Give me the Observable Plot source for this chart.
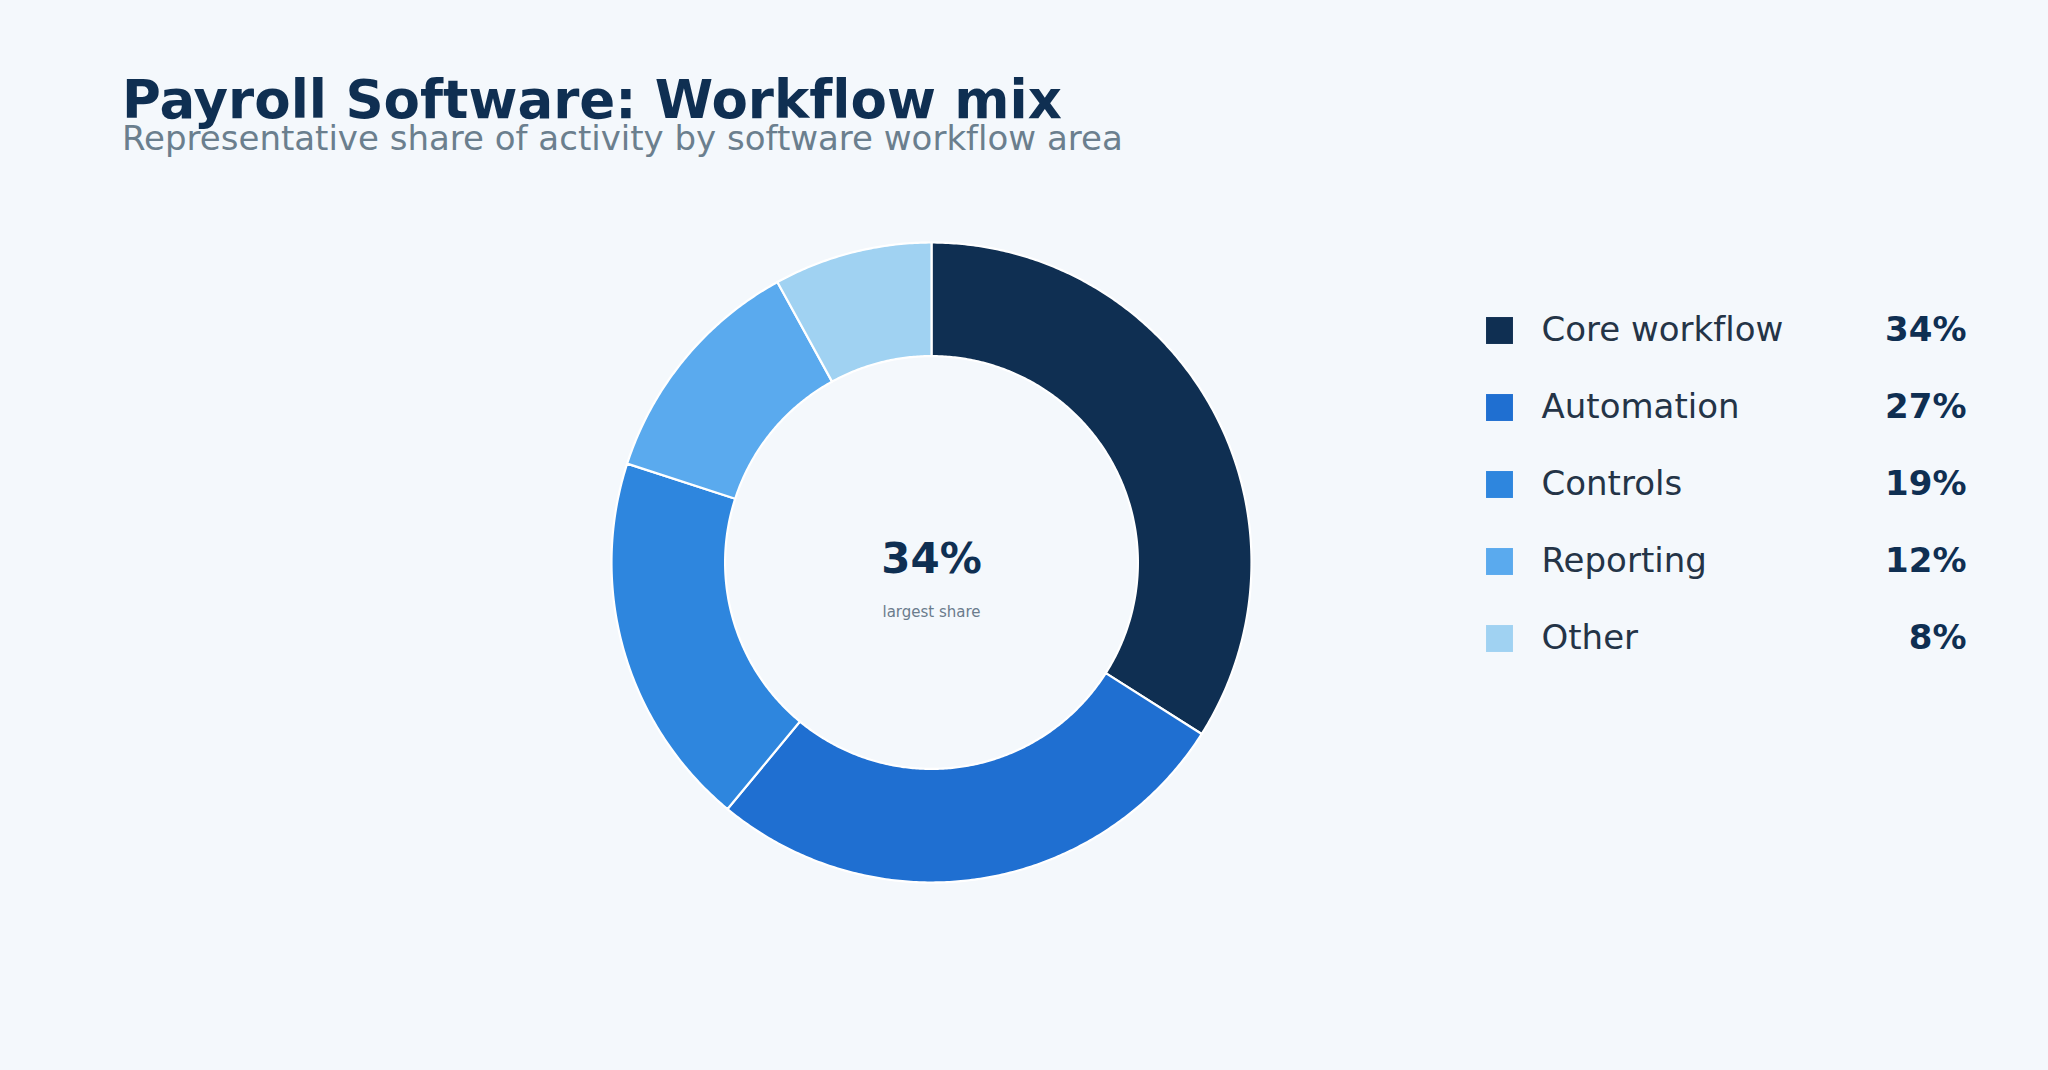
<!DOCTYPE html>
<html>
<head>
<meta charset="utf-8">
<script src="https://cdn.jsdelivr.net/npm/d3@7"></script>
<script src="https://cdn.jsdelivr.net/npm/@observablehq/plot@0.6"></script>
<style>
  html, body { margin: 0; padding: 0; background: #f4f8fc; width: 2048px; height: 1070px; overflow: hidden; font-family: "DejaVu Sans", sans-serif; font-variant-ligatures: none; }
  svg text { font-variant-ligatures: none; }
  #title { position: absolute; left: 122px; top: 73px; font-size: 53px; font-weight: bold; color: #0f2f52; line-height: 1; white-space: nowrap; }
  #subtitle { position: absolute; left: 122px; top: 121px; font-size: 34px; color: #6b7f8e; line-height: 1; white-space: nowrap; }
  #donut { position: absolute; left: 0; top: 170px; }
  #legend { position: absolute; left: 1470px; top: 291px; }
</style>
</head>
<body>
<div id="title"></div>
<div id="subtitle"></div>
<div id="donut"></div>
<div id="legend"></div>
<script>
const titleText = "Payroll Software: Workflow mix";
const subtitleText = "Representative share of activity by software workflow area";
const categories = ["Core workflow", "Automation", "Controls", "Reporting", "Other"];
const shares = [34, 27, 19, 12, 8];
const colors = ["#0f2f52", "#1f6fd1", "#2e86de", "#5aaaee", "#a0d2f2"];
const centerNote = "largest share";

document.getElementById("title").textContent = titleText;
document.getElementById("subtitle").textContent = subtitleText;

const innerRatio = 0.645;
const rows = categories.map((c, i) => ({category: c, share: shares[i]}));

// Build slice outlines from pie angles (clockwise from 12 o'clock)
const pie = d3.pie().value(d => d.share).sort(null)(rows);
const outline = [];
for (const p of pie) {
  const a0 = p.startAngle, a1 = p.endAngle;
  const n = Math.max(2, Math.ceil((a1 - a0) / (Math.PI / 360)));
  const pts = [];
  for (let k = 0; k <= n; k++) { const a = a0 + (a1 - a0) * k / n; pts.push([Math.sin(a), Math.cos(a)]); }
  for (let k = n; k >= 0; k--) { const a = a0 + (a1 - a0) * k / n; pts.push([innerRatio * Math.sin(a), innerRatio * Math.cos(a)]); }
  pts.push(pts[0]);
  for (const [x, y] of pts) outline.push({category: p.data.category, x, y});
}

const largest = rows.reduce((a, b) => (b.share > a.share ? b : a));
const cx = 931, cy = 392, R = 320;

const donut = Plot.plot({
  width: 2048,
  height: 900,
  margin: 0,
  style: {background: "transparent", fontFamily: "DejaVu Sans, sans-serif"},
  x: {domain: [-1, 1], range: [cx - R, cx + R], axis: null},
  y: {domain: [-1, 1], range: [cy + R, cy - R], axis: null},
  color: {domain: categories, range: colors},
  marks: [
    Plot.line(outline, {x: "x", y: "y", z: "category", fill: "category", stroke: "white", strokeWidth: 2.2, strokeLinejoin: "round"}),
    Plot.text([largest], {x: () => 0, y: () => 0, text: d => d.share + "%", dy: -3, fontSize: 42, fontWeight: "bold", fill: "#0f2f52", lineAnchor: "middle"}),
    Plot.text([largest], {x: () => 0, y: () => 0, text: () => centerNote, dy: 50, fontSize: 15, fill: "#6b7c8c", lineAnchor: "middle"})
  ]
});
document.getElementById("donut").appendChild(donut);

const legend = Plot.plot({
  width: 500,
  height: 385,
  margin: 0,
  style: {background: "transparent", fontFamily: "DejaVu Sans, sans-serif"},
  y: {domain: categories, range: [0, 385], axis: null},
  color: {domain: categories, range: colors},
  marks: [
    Plot.dot(rows, {y: "category", frameAnchor: "left", dx: 29, symbol: "square", r: 15.2, fill: "category", stroke: null}),
    Plot.text(rows, {y: "category", text: "category", frameAnchor: "left", dx: 71, textAnchor: "start", fontSize: 34, fill: "#243447"}),
    Plot.text(rows, {y: "category", text: d => d.share + "%", frameAnchor: "left", dx: 496, textAnchor: "end", fontSize: 34, fontWeight: "bold", fill: "#0f2f52"})
  ]
});
document.getElementById("legend").appendChild(legend);
</script>
</body>
</html>
